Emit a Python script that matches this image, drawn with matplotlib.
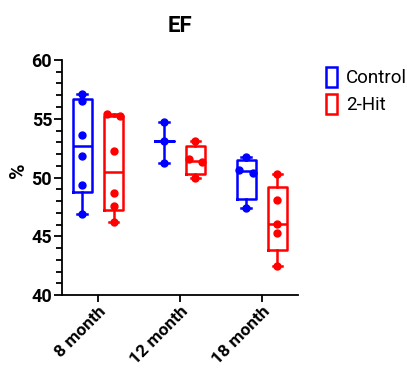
import numpy as np
import matplotlib
matplotlib.use("Agg")
import matplotlib.pyplot as plt
from matplotlib.patches import Patch
from matplotlib.ticker import MultipleLocator

plt.rcParams['font.family'] = ['Roboto', 'DejaVu Sans']

groups = ["8 month", "12 month", "18 month"]
series = ["Control", "2-Hit"]
colors = ["#0000ff", "#ff0000"]

control = [
    [57.1, 56.5, 53.6, 51.8, 49.4, 46.9],
    [54.7, 53.1, 51.2],
    [51.75, 50.65, 50.4, 47.4],
]
two_hit = [
    [55.4, 55.2, 52.3, 48.7, 47.6, 46.2],
    [53.1, 51.6, 51.3, 50.0],
    [50.3, 48.1, 46.05, 45.3, 42.45],
]


def prism_pct(vals, p):
    # percentile the way Prism does it: rank (n+1)p, linear between ranks
    v = np.sort(vals)
    n = len(v)
    r = (n + 1) * p
    lo = int(np.floor(r))
    frac = r - lo
    lo = min(max(lo, 1), n)
    hi = min(lo + 1, n)
    return v[lo - 1] + frac * (v[hi - 1] - v[lo - 1])


def box_stats(vals):
    v = np.sort(vals)
    med = float(np.median(v))
    if len(v) < 4:
        q1 = q3 = med
    else:
        q1, q3 = prism_pct(v, 0.25), prism_pct(v, 0.75)
    return dict(med=med, q1=q1, q3=q3, whislo=v[0], whishi=v[-1], fliers=[])


def spread(vals, step=0.085, tol=0.4):
    v = sorted(vals, reverse=True)
    off = [0.0] * len(v)
    i = 0
    while i < len(v) - 1:
        if v[i] - v[i + 1] < tol:
            off[i], off[i + 1] = -step, step
            i += 2
        else:
            i += 1
    return v, off


fig = plt.figure(figsize=(4.07, 3.68), dpi=100)
ax = fig.add_axes([0.152, 0.198, 0.58, 0.639])

x = np.arange(len(groups))
shift = 0.19
for s, (data, col) in enumerate(zip([control, two_hit], colors)):
    pos = x + (s * 2 - 1) * shift
    stats = [box_stats(d) for d in data]
    ax.bxp(stats, positions=pos, widths=0.23, showfliers=False,
           boxprops=dict(color=col, lw=1.8),
           medianprops=dict(color=col, lw=1.8),
           whiskerprops=dict(color=col, lw=1.8),
           capprops=dict(color=col, lw=1.8), capwidths=0.12)
    for p, d in zip(pos, data):
        v, off = spread(d)
        ax.plot(p + np.array(off), v, 'o', color=col, ms=5, zorder=3)

ax.set_xlim(-0.44, 2.44)
ax.set_ylim(40, 60)
ax.yaxis.set_major_locator(MultipleLocator(5))
ax.yaxis.set_minor_locator(MultipleLocator(1))
ax.set_xticks(x)
ax.set_xticklabels(groups, rotation=45, ha='right', rotation_mode='anchor',
                   fontsize=12.5, fontweight='bold')
for lab in ax.get_yticklabels():
    lab.set_fontsize(13)
    lab.set_fontweight('bold')
ax.tick_params(axis='y', which='major', length=6, width=1.3, pad=1)
ax.tick_params(axis='y', which='minor', length=4, width=1.3)
ax.tick_params(axis='x', length=5, width=1.3, pad=1)
for sp in ['top', 'right']:
    ax.spines[sp].set_visible(False)
for sp in ['left', 'bottom']:
    ax.spines[sp].set_linewidth(1.3)

ax.set_ylabel('%', fontsize=15, fontweight='bold')
ax.yaxis.set_label_coords(-0.145, 0.53)
ax.set_title('EF', fontsize=16, fontweight='bold', pad=20)

handles = [Patch(facecolor='none', edgecolor=c, lw=1.8, label=l)
           for c, l in zip(colors, series)]
fig.legend(handles=handles, loc='upper left', bbox_to_anchor=(0.76, 0.865),
           frameon=False, handlelength=0.55, handleheight=1.3,
           handletextpad=0.5, labelspacing=0.35,
           prop=dict(size=13.5))

fig.savefig('out.png', dpi=100)
